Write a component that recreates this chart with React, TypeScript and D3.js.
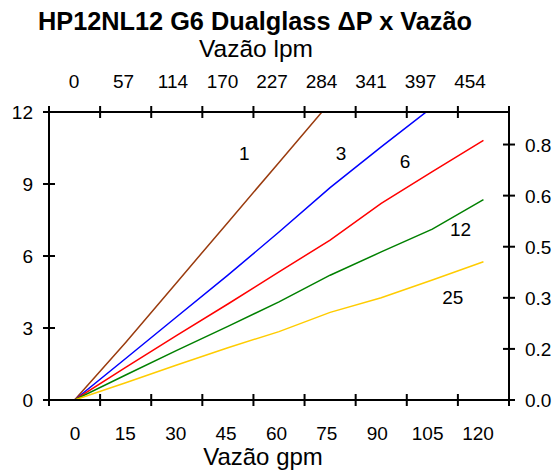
import React from 'react';
import * as d3 from 'd3';

// flow in gpm, pressure drop per filter grade
const flowGpm = [0, 15, 30, 45, 60, 75, 90, 105, 120];
const grade1 = [0, 2.4, 4.9, 7.4, 9.9, 12.4];
const grade3 = [0, 1.73, 3.47, 5.2, 7.0, 8.85, 10.55, 12.2, 13.9];
const grade6 = [0, 1.36, 2.69, 4.0, 5.34, 6.66, 8.19, 9.52, 10.82];
const grade12 = [0, 1.04, 2.07, 3.07, 4.09, 5.2, 6.17, 7.12, 8.35];
const grade25 = [0, 0.72, 1.46, 2.18, 2.85, 3.65, 4.26, 5.0, 5.76];

const series = [
  { name: '1', values: grade1, color: '#9a3b0e' },
  { name: '3', values: grade3, color: '#0000ff' },
  { name: '6', values: grade6, color: '#ff0000' },
  { name: '12', values: grade12, color: '#008000' },
  { name: '25', values: grade25, color: '#ffcc00' },
];

// curve labels: [flow gpm, value at baseline]
const curveLabels = [
  { text: '1', at: [49.8, 10.0] },
  { text: '3', at: [78.2, 10.0] },
  { text: '6', at: [97, 9.67] },
  { text: '12', at: [113.3, 6.83] },
  { text: '25', at: [111, 4.0] },
];

const bottomTicks = [0, 15, 30, 45, 60, 75, 90, 105, 120];
const topTickLabels = ['0', '57', '114', '170', '227', '284', '341', '397', '454'];
const leftTicks = [0, 3, 6, 9, 12];
const rightTicks = [0, 0.15, 0.3, 0.45, 0.6, 0.75];
const rightTickLabels = ['0.0', '0.2', '0.3', '0.5', '0.6', '0.8'];

const font = '"Liberation Sans", Arial, Helvetica, sans-serif';

export default function App() {
  const width = 556;
  const height = 472;
  const left = 49, right = 509, top = 112, bottom = 400;

  const x = d3.scaleLinear().domain([-7.5, 127.5]).range([left, right]);
  const y = d3.scaleLinear().domain([0, 12]).range([bottom, top]);
  const yBar = d3.scaleLinear().domain([0, 0.8455]).range([bottom, top]);
  // the tick labels are spaced a little tighter than the data scale
  const xLabel = d3.scaleLinear().domain([0, 120]).range([75, 478]);
  const xTopLabel = d3.scalePoint<string>().domain(topTickLabels).range([74, 470]);

  // tick marks sit halfway between the labels
  const tickMarks = d3.range(-7.5, 128, 15);

  const line = d3.line<number>()
    .x((_, i) => x(flowGpm[i]))
    .y(d => y(d));

  const tl = 6;

  return (
    <div style={{ position: 'fixed', left: 0, top: 0, width, height, overflow: 'hidden', background: '#fff' }}>
      <svg width={width} height={height} style={{ display: 'block' }} fontFamily={font}>
        <defs>
          <clipPath id="plot">
            <rect x={left} y={top} width={right - left} height={bottom - top} />
          </clipPath>
        </defs>

        <text x={255} y={30} textAnchor="middle" fontSize={25.3} fontWeight="bold">HP12NL12 G6 Dualglass ΔP x Vazão</text>
        <text x={256} y={57} textAnchor="middle" fontSize={24.5}>Vazão lpm</text>
        <text x={263} y={465} textAnchor="middle" fontSize={24}>Vazão gpm</text>

        {/* data lines */}
        <g clipPath="url(#plot)">
          {series.map(s => (
            <path key={s.name} d={line(s.values) || ''} fill="none" stroke={s.color} strokeWidth={1.5} />
          ))}
        </g>

        {curveLabels.map(l => (
          <text key={l.text} x={x(l.at[0])} y={y(l.at[1])} textAnchor="middle" fontSize={19}>{l.text}</text>
        ))}

        {/* frame */}
        <g stroke="#000" strokeWidth={2} fill="none">
          <line x1={left} x2={right} y1={top} y2={top} />
          <line x1={left} x2={right} y1={bottom} y2={bottom} />
          <line x1={left} x2={left} y1={top} y2={bottom} />
          <line x1={right} x2={right} y1={top} y2={bottom} />
          {tickMarks.map(t => (
            <g key={t}>
              <line x1={x(t)} x2={x(t)} y1={top - tl} y2={top + tl} />
              <line x1={x(t)} x2={x(t)} y1={bottom - tl} y2={bottom + tl} />
            </g>
          ))}
          {leftTicks.map(t => (
            <line key={t} x1={left - tl} x2={left + tl} y1={y(t)} y2={y(t)} />
          ))}
          {rightTicks.map(t => (
            <line key={t} x1={right - tl} x2={right + tl} y1={yBar(t)} y2={yBar(t)} />
          ))}
        </g>

        {/* tick labels */}
        <g fontSize={19}>
          {bottomTicks.map(t => (
            <text key={t} x={xLabel(t)} y={440} textAnchor="middle">{t}</text>
          ))}
          {topTickLabels.map(t => (
            <text key={t} x={xTopLabel(t)} y={88} textAnchor="middle">{t}</text>
          ))}
          {leftTicks.map(t => (
            <text key={t} x={33} y={y(t) + 7} textAnchor="end">{t}</text>
          ))}
          {rightTicks.map((t, i) => (
            <text key={t} x={525} y={yBar(t) + 7} textAnchor="start">{rightTickLabels[i]}</text>
          ))}
        </g>
      </svg>
    </div>
  );
}
